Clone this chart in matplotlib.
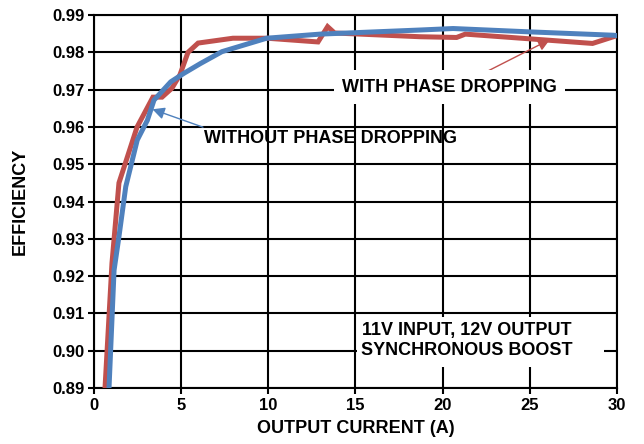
import numpy as np
import matplotlib.pyplot as plt
from matplotlib.patches import Rectangle

plt.rcParams['font.family'] = ['Liberation Sans', 'DejaVu Sans']
plt.rcParams['font.weight'] = 'bold'

# with phase dropping (red)
with_x = [0.63, 1.03, 1.43, 2.47, 3.38, 3.9, 4.47, 4.93, 5.39, 5.97, 7.97, 9.93,
          12.85, 13.4, 13.8, 18.7, 20.8, 21.3, 28.6, 29.8, 30.0]
with_y = [0.890, 0.9235, 0.945, 0.960, 0.968, 0.968, 0.9704, 0.974, 0.980, 0.9825, 0.9838, 0.9838,
          0.9828, 0.9869, 0.9852, 0.9842, 0.9840, 0.9849, 0.9824, 0.9842, 0.9845]

# without phase dropping (blue)
without_x = [0.86, 1.15, 1.43, 1.82, 2.48, 3.06, 3.44, 4.4, 5.16, 6.1, 7.34, 9.9,
             12.97, 18.7, 20.6, 25.0, 29.8, 30.0]
without_y = [0.890, 0.9216, 0.9306, 0.944, 0.9565, 0.9618, 0.9672, 0.9721, 0.9744, 0.977, 0.9802, 0.9838,
             0.9849, 0.9860, 0.9864, 0.9855, 0.9846, 0.9845]

x_ticks = [0, 5, 10, 15, 20, 25, 30]
y_ticks = [0.89, 0.90, 0.91, 0.92, 0.93, 0.94, 0.95, 0.96, 0.97, 0.98, 0.99]

red = "#C0504D"
blue = "#4F81BD"

fig = plt.figure(figsize=(6.44, 4.44), dpi=100)
ax = fig.add_axes([0.146, 0.126, 0.812, 0.840])

ax.plot(with_x, with_y, color=red, lw=3.6, solid_joinstyle="miter", zorder=3)
ax.plot(without_x, without_y, color=blue, lw=3.6, zorder=4)

ax.set_xlim(0, 30)
ax.set_ylim(0.89, 0.99)
ax.set_xticks(x_ticks)
ax.set_yticks(y_ticks)
ax.set_yticklabels([f"{v:.2f}" for v in y_ticks])
ax.grid(True, color="black", lw=1.5, zorder=1)
for s in ax.spines.values():
    s.set_linewidth(1.5)
ax.tick_params(direction="out", length=4, width=1.5, labelsize=12, pad=3)
for lab in ax.get_xticklabels() + ax.get_yticklabels():
    lab.set_fontweight("bold")

ax.set_xlabel("OUTPUT CURRENT (A)", fontsize=13, fontweight="bold", labelpad=5)
ax.set_ylabel("EFFICIENCY", fontsize=13, fontweight="bold", labelpad=17)

box = dict(facecolor="white", edgecolor="none", pad=6)
ax.annotate("", xy=(26.3, 0.9838), xytext=(22.0, 0.9736),
            arrowprops=dict(arrowstyle="-|>", color=red, lw=1, mutation_scale=18), zorder=5)
ax.text(20.4, 0.9707, "WITH PHASE DROPPING", ha="center", va="center",
        fontsize=13, fontweight="bold", bbox=box, zorder=6)

ax.annotate("", xy=(3.2, 0.9650), xytext=(6.4, 0.9597),
            arrowprops=dict(arrowstyle="-|>", color=blue, lw=1, mutation_scale=18), zorder=5)
ax.text(6.3, 0.957, "WITHOUT PHASE DROPPING", ha="left", va="center",
        fontsize=13, fontweight="bold", zorder=6)

# white panel behind the condition note
ax.add_patch(Rectangle((15.08, 0.8957), 14.2, 0.0133, facecolor="white", edgecolor="none", zorder=2))
ax.text(21.4, 0.9028, "11V INPUT, 12V OUTPUT\nSYNCHRONOUS BOOST", ha="center", va="center",
        fontsize=13, fontweight="bold", linespacing=1.2, zorder=6)

fig.savefig("out.png", dpi=100)
